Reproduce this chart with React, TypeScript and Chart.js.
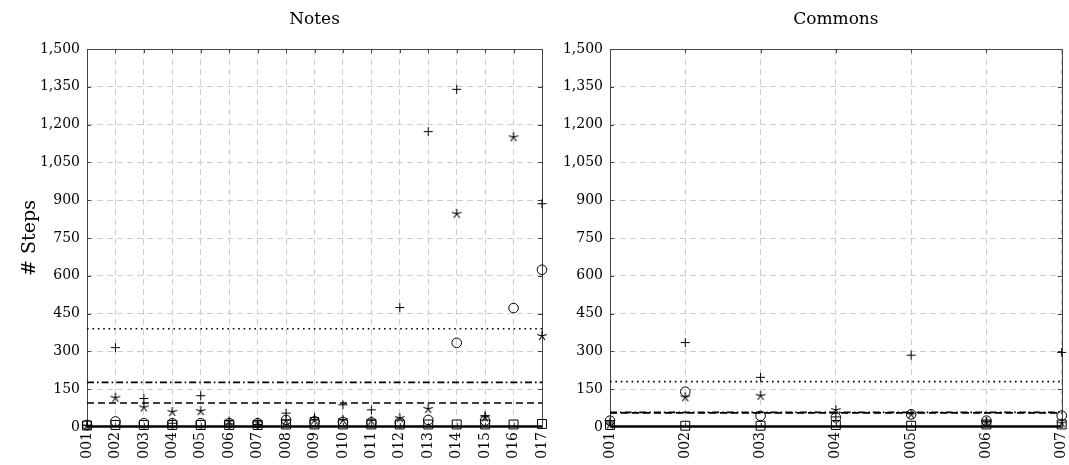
import React, { useEffect, useRef } from 'react';
import { Chart, registerables } from 'chart.js';

Chart.register(...registerables);

const FONT = 'DejaVu Serif';

// ---------- Notes panel data ----------
const notesCategories = ['001', '002', '003', '004', '005', '006', '007', '008', '009', '010', '011', '012', '013', '014', '015', '016', '017'];
const notesPlus = [5, 315, 113, 15, 124, 12, 10, 55, 38, 88, 68, 474, 1172, 1340, 45, null, 886];
const notesStar = [5, 116, 78, 60, 63, 22, 18, 25, 28, 28, 25, 35, 72, 846, 38, 1150, 361];
const notesCircle = [8, 22, 15, 15, 15, 15, 15, 28, 22, 20, 18, 18, 28, 334, 25, 472, 624];
const notesSquare = [6, 8, 8, 8, 8, 8, 8, 10, 10, 10, 10, 10, 10, 10, 10, 10, 12];
const notesDotted = 390;
const notesDashDot = 177;
const notesDashed = 95;
const notesSolid = 2;

// ---------- Commons panel data ----------
const commonsCategories = ['001', '002', '003', '004', '005', '006', '007'];
const commonsPlus = [20, 335, 197, 40, 285, 20, 296];
const commonsStar = [10, 118, 124, 67, 50, 20, 15];
const commonsCircle = [25, 140, 44, 38, 50, 25, 45];
const commonsSquare = [8, 5, 5, 8, 5, 10, 10];
const commonsDotted = 180;
const commonsDashDot = 58;
const commonsDashed = 56;
const commonsSolid = 2;

// ---------- axis ----------
const yMin = 0;
const yMax = 1500;
const yStep = 150;
const yTitle = '# Steps';

function makeAsterisk(): HTMLCanvasElement {
  const c = document.createElement('canvas');
  c.width = 12;
  c.height = 12;
  const ctx = c.getContext('2d')!;
  ctx.strokeStyle = '#000';
  ctx.lineWidth = 1.1;
  ctx.lineCap = 'butt';
  ctx.beginPath();
  for (let k = 0; k < 5; k++) {
    const a = -Math.PI / 2 + (k * 2 * Math.PI) / 5;
    ctx.moveTo(6, 6);
    ctx.lineTo(6 + 5 * Math.cos(a), 6 + 5 * Math.sin(a));
  }
  ctx.stroke();
  return c;
}

const framePlugin = {
  id: 'frame',
  beforeDatasetsDraw(chart: any) {
    const { ctx, chartArea } = chart;
    const { left, right, top, bottom } = chartArea;
    ctx.save();
    ctx.strokeStyle = '#444';
    ctx.lineWidth = 1;
    ctx.setLineDash([]);
    ctx.beginPath();
    const xs = chart.scales.x;
    const ys = chart.scales.y;
    const tl = 4;
    xs.ticks.forEach((_: any, i: number) => {
      const px = Math.round(xs.getPixelForTick(i)) + 0.5;
      ctx.moveTo(px, top);
      ctx.lineTo(px, top + tl);
      ctx.moveTo(px, bottom);
      ctx.lineTo(px, bottom - tl);
    });
    ys.ticks.forEach((_: any, i: number) => {
      const py = Math.round(ys.getPixelForTick(i)) + 0.5;
      ctx.moveTo(left, py);
      ctx.lineTo(left + tl, py);
      ctx.moveTo(right, py);
      ctx.lineTo(right - tl, py);
    });
    ctx.stroke();
    ctx.strokeRect(Math.round(left) + 0.5, Math.round(top) + 0.5, Math.round(right - left), Math.round(bottom - top));
    ctx.restore();
  },
  afterDraw(chart: any) {
    const t = chart.options.plugins.frame?.title;
    if (!t) return;
    const { ctx, chartArea } = chart;
    ctx.save();
    ctx.fillStyle = '#000';
    ctx.font = `17px "${FONT}"`;
    ctx.textAlign = 'center';
    ctx.textBaseline = 'middle';
    ctx.fillText(t, (chartArea.left + chartArea.right) / 2, 20);
    ctx.restore();
  },
};

function buildConfig(
  title: string,
  categories: string[],
  plus: (number | null)[],
  star: (number | null)[],
  circle: (number | null)[],
  square: (number | null)[],
  dotted: number,
  dashDot: number,
  dashed: number,
  solid: number,
  yWidth: number,
  padRight: number,
  showYTitle: boolean,
  asterisk: HTMLCanvasElement,
): any {
  const lineDs = (v: number, dash: number[], w: number) => ({
    data: categories.map(() => v),
    borderColor: '#000',
    borderWidth: w,
    borderDash: dash,
    pointRadius: 0,
    fill: false,
    tension: 0,
  });
  const markDs = (data: (number | null)[], style: any, r: number) => ({
    data,
    showLine: false,
    pointStyle: style,
    pointRadius: r,
    pointBorderColor: '#000',
    pointBackgroundColor: 'rgba(0,0,0,0)',
    pointBorderWidth: 1,
    borderColor: '#000',
    clip: false,
  });
  return {
    type: 'line',
    data: {
      labels: categories,
      datasets: [
        markDs(plus, 'cross', 4.5),
        markDs(star, asterisk, 5),
        markDs(circle, 'circle', 4.8),
        markDs(square, 'rect', 6.3),
        lineDs(dotted, [1.6, 3.8], 1.6),
        lineDs(dashDot, [7, 3, 1.6, 3], 1.6),
        lineDs(dashed, [7, 4], 1.6),
        lineDs(solid, [], 2.6),
      ],
    },
    options: {
      responsive: false,
      animation: false,
      events: [],
      layout: { padding: { top: 49, right: padRight, left: 0, bottom: 0 } },
      plugins: {
        legend: { display: false },
        tooltip: { enabled: false },
        title: { display: false },
        frame: { title },
      },
      scales: {
        x: {
          type: 'category',
          offset: false,
          ticks: {
            autoSkip: false,
            minRotation: 90,
            maxRotation: 90,
            padding: 5,
            color: '#000',
            font: { family: FONT, size: 14 },
          },
          grid: { color: '#cdcdcd', lineWidth: 1, drawTicks: false },
          border: { display: false, dash: [6, 4] },
          afterFit: (s: any) => {
            s.height = 38;
            s.paddingLeft = 0;
            s.paddingRight = 0;
          },
        },
        y: {
          type: 'linear',
          min: yMin,
          max: yMax,
          ticks: {
            stepSize: yStep,
            padding: 7,
            color: '#000',
            font: { family: FONT, size: 14 },
            callback: (v: any) => Number(v).toLocaleString('en-US'),
          },
          grid: { color: '#cdcdcd', lineWidth: 1, drawTicks: false },
          border: { display: false, dash: [6, 4] },
          title: {
            display: showYTitle,
            text: yTitle,
            color: '#000',
            font: { family: FONT, size: 19 },
            padding: { top: 19, bottom: 0 },
          },
          afterFit: (s: any) => {
            s.width = yWidth;
          },
        },
      },
    },
    plugins: [framePlugin],
  };
}

export default function App() {
  const leftRef = useRef<HTMLCanvasElement>(null);
  const rightRef = useRef<HTMLCanvasElement>(null);

  useEffect(() => {
    const asterisk = makeAsterisk();
    const c1 = new Chart(
      leftRef.current!,
      buildConfig('Notes', notesCategories, notesPlus, notesStar, notesCircle, notesSquare,
        notesDotted, notesDashDot, notesDashed, notesSolid, 87, 8, true, asterisk),
    );
    const c2 = new Chart(
      rightRef.current!,
      buildConfig('Commons', commonsCategories, commonsPlus, commonsStar, commonsCircle, commonsSquare,
        commonsDotted, commonsDashDot, commonsDashed, commonsSolid, 60, 6, false, asterisk),
    );
    return () => {
      c1.destroy();
      c2.destroy();
    };
  }, []);

  return (
    <div style={{ position: 'absolute', left: 0, top: 0, width: 1069, height: 465, display: 'flex', background: '#fff' }}>
      <canvas ref={leftRef} width={550} height={465} style={{ display: 'block', width: 550, height: 465 }} />
      <canvas ref={rightRef} width={519} height={465} style={{ display: 'block', width: 519, height: 465 }} />
    </div>
  );
}
